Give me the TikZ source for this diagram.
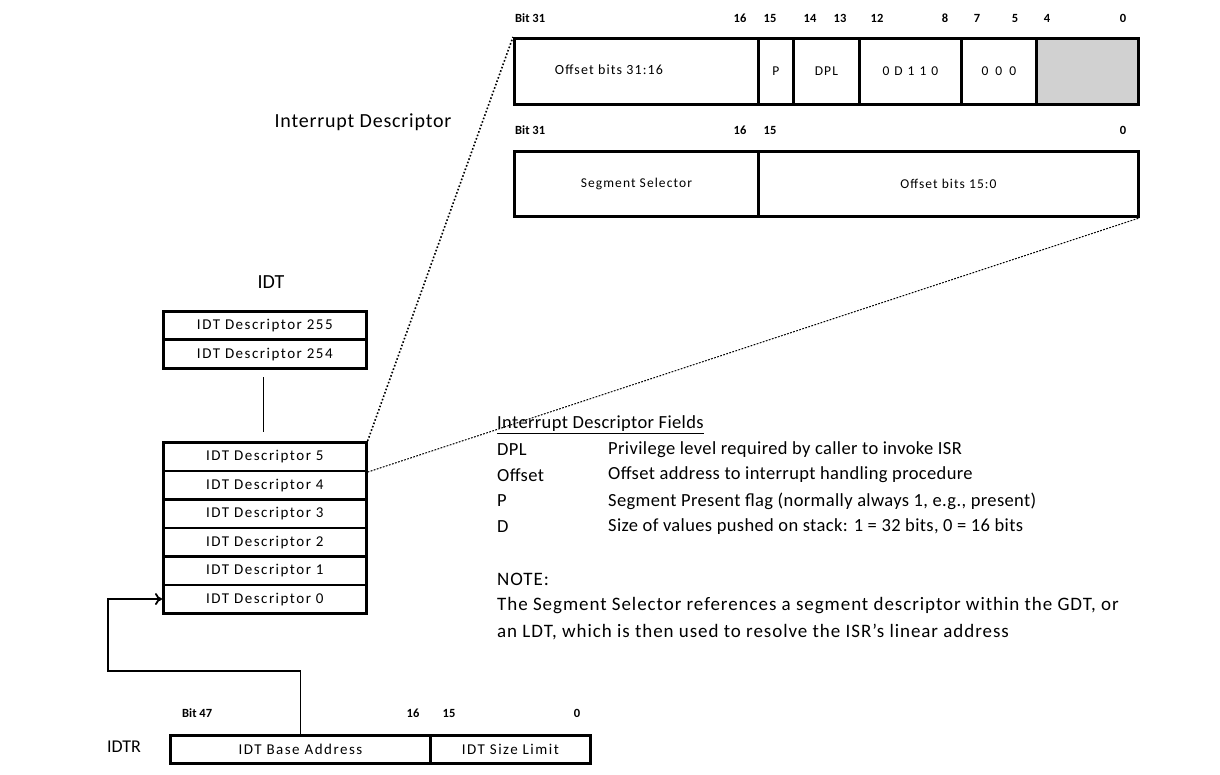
\documentclass[tikz,border=0pt]{standalone}
\usepackage{fontspec}
\setmainfont{Carlito}
\newfontfamily\spc[LetterSpace=10]{Carlito}
\newfontfamily\spcb[LetterSpace=8]{Carlito}
\newfontfamily\bodyf[LetterSpace=2]{Carlito}
\newfontfamily\notef[LetterSpace=5]{Carlito}
\newfontfamily\titf[LetterSpace=4]{Carlito}
\usetikzlibrary{arrows.meta}
\tikzset{
  cell/.style={draw, line width=2.8pt, anchor=north west, inner sep=0pt, font=\fontsize{13.5}{15}\selectfont\spcb},
  idtrow/.style={draw, line width=2.6pt, anchor=north west, inner sep=0pt, minimum width=203pt, minimum height=28.5pt, font=\fontsize{15}{17}\selectfont\spc},
  bitlab/.style={inner sep=0pt, font=\fontsize{12.5}{14}\selectfont\bfseries},
  body/.style={inner sep=0pt, anchor=west, font=\fontsize{18.5}{20}\selectfont\bodyf},
  note/.style={inner sep=0pt, anchor=west, font=\fontsize{19}{20}\selectfont\notef},
  zoomline/.style={dotted, line width=1.6pt},
  fineline/.style={dash pattern=on 1.8pt off 1.4pt, line width=1pt},
}
\begin{document}
\begin{tikzpicture}[x=1pt,y=-1pt]
\useasboundingbox (0,0) rectangle (1220,775);
% ---- top descriptor word
\node[cell, minimum width=244pt, minimum height=66pt] (f1) at (513,37) {};
\node[cell, minimum width=35pt, minimum height=66pt] (f2) at (757,37) {P};
\node[cell, minimum width=66pt, minimum height=66pt] (f3) at (792,37) {DPL};
\node[cell, minimum width=102pt, minimum height=66pt] (f4) at (858,37) {0\hspace{5pt}D\hspace{5pt}1\hspace{5pt}1\hspace{5pt}0};
\node[cell, minimum width=75pt, minimum height=66pt] (f5) at (960,37) {0\hspace{7pt}0\hspace{7pt}0};
\node[cell, minimum width=102pt, minimum height=66pt, fill=black!18] (f6) at (1035,37) {};
\node[inner sep=0pt, font=\fontsize{14}{15}\selectfont\spcb] (ot1) at (609,70) {Offset bits 31:16};
% bit numbers row 1
\node[bitlab, anchor=west] (b31a) at (515,18) {Bit 31};
\node[bitlab] (b16a) at (740,18) {16};
\node[bitlab] (b15a) at (770,18) {15};
\node[bitlab] (b14a) at (810,18) {14};
\node[bitlab] (b13a) at (840,18) {13};
\node[bitlab] (b12a) at (877,18) {12};
\node[bitlab] (b8a) at (945,18) {8};
\node[bitlab] (b7a) at (977,18) {7};
\node[bitlab] (b5a) at (1015,18) {5};
\node[bitlab] (b4a) at (1047,18) {4};
\node[bitlab] (b0a) at (1123,18) {0};
% ---- second word
\node[cell, minimum width=244pt, minimum height=65pt] (s1) at (513,150) {Segment Selector};
\node[cell, minimum width=380pt, minimum height=65pt] (s2) at (757,150) {Offset bits 15:0};
\node[bitlab, anchor=west] (b31b) at (515,130) {Bit 31};
\node[bitlab] (b16b) at (740,130) {16};
\node[bitlab] (b15b) at (770,130) {15};
\node[bitlab] (b0b) at (1123,130) {0};
% titles
\node[inner sep=0pt, font=\fontsize{20}{22}\selectfont\titf] (tid) at (363,122) {Interrupt Descriptor};
\node[inner sep=0pt, font=\fontsize{20}{22}\selectfont] (tidt) at (271,282) {IDT};
% ---- IDT
\node[idtrow] (d255) at (162,310) {IDT Descriptor 255};
\node[idtrow] (d254) at (162,338.5) {IDT Descriptor 254};
\node[idtrow] (d5) at (162,441) {IDT Descriptor 5};
\node[idtrow] (d4) at (162,469.5) {IDT Descriptor 4};
\node[idtrow] (d3) at (162,498) {IDT Descriptor 3};
\node[idtrow] (d2) at (162,526.5) {IDT Descriptor 2};
\node[idtrow] (d1) at (162,555) {IDT Descriptor 1};
\node[idtrow] (d0) at (162,583.5) {IDT Descriptor 0};
\coordinate (gapt) at (263,377);
\coordinate (gapb) at (263,432);
\draw[line width=0.8pt] (gapt) -- (gapb);
% ---- zoom lines
\draw[zoomline] (d5.north east) -- (f1.north west);
\draw[fineline] (d5.south east) -- (s2.south east);
% ---- IDTR
\node[cell, minimum width=260pt, minimum height=28pt, font=\fontsize{15}{17}\selectfont\spc] (base) at (169,734) {IDT Base Address};
\node[cell, minimum width=160pt, minimum height=28pt, font=\fontsize{15}{17}\selectfont\spc] (lim) at (429,734) {IDT Size Limit};
\node[inner sep=0pt, font=\fontsize{18}{20}\selectfont] (idtr) at (124,747) {IDTR};
\node[bitlab, anchor=west] (b47c) at (182,713) {Bit 47};
\node[bitlab] (b16c) at (413,713) {16};
\node[bitlab] (b15c) at (449,713) {15};
\node[bitlab] (b0c) at (577,713) {0};
\coordinate (c1) at (108,671);
\draw[line width=1.8pt, -{To[length=7pt,width=12pt,line width=1.8pt]}] (base.north) |- (c1) |- (d0.west);
% ---- fields text
\node[body] (fh) at (497,425) {\underline{Interrupt Descriptor Fields}};
\node[body] (k1) at (497,450) {DPL};
\node[body] (v1) at (608,450) {Privilege level required by caller  to invoke ISR};
\node[body] (k2) at (497,475) {Offset};
\node[body] (v2) at (608,475) {Offset address to interrupt handling procedure};
\node[body] (k3) at (497,501) {P};
\node[body] (v3) at (608,501) {Segment Present flag (normally always 1, e.g., present)};
\node[body] (k4) at (497,527) {D};
\node[body] (v4) at (608,527) {Size of values pushed on stack: 1 = 32 bits,  0 = 16 bits};
\node[note] (nt) at (497,579) {NOTE:};
\node[note] (n1) at (497,606) {The Segment Selector references a segment  descriptor within the GDT, or};
\node[note] (n2) at (497,632) {an LDT, which is then used to resolve the ISR’s linear address};
\end{tikzpicture}
\end{document}
